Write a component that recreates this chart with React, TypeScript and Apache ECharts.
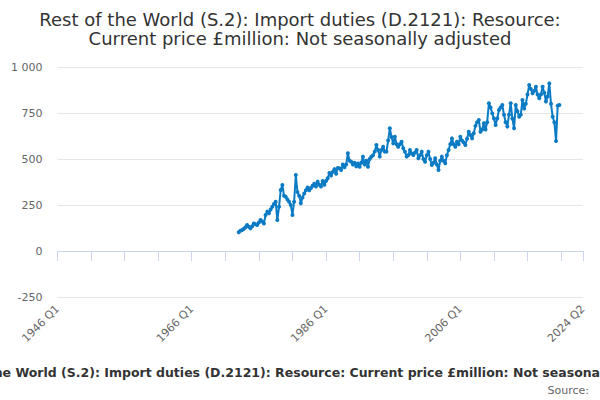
import React, { useEffect, useRef } from "react";
import * as echarts from "echarts";

const TITLE_LINE_1 = "Rest of the World (S.2): Import duties (D.2121): Resource:";
const TITLE_LINE_2 = "Current price £million: Not seasonally adjusted";
const FOOT_TITLE =
  "Rest of the World (S.2): Import duties (D.2121): Resource: Current price £million: Not seasonally adjusted";
const SOURCE_TEXT = "Source:";

const FIRST_YEAR = 1946;
const LAST_YEAR = 2024;
const LAST_QUARTER = 2;
const DATA_START = "1973 Q1";

const yTicks = [-250, 0, 250, 500, 750, 1000];

const values1970s = [
  102, 110, 114, 120,
  129, 141, 132, 123,
  135, 150, 145, 141,
  155, 168, 160, 150,
  196, 214, 205, 225,
  241, 255, 268, 168,
  240, 331, 359, 300,
];
const values1980s = [
  295, 280, 268, 250,
  196, 268, 413, 320,
  300, 259, 290, 313,
  330, 345, 330, 342,
  355, 365, 350, 377,
  360, 350, 380, 360,
  380, 395, 424, 410,
  430, 445, 420, 451,
  450, 440, 470, 455,
  470, 531, 490, 485,
];
const values1990s = [
  470, 480, 460, 475,
  458, 480, 513, 470,
  490, 458, 500, 512,
  520, 540, 576, 549,
  513, 549, 567, 540,
  540, 600, 667, 620,
  585, 621, 580, 567,
  580, 594, 558, 540,
  513, 520, 549, 530,
  522, 535, 549, 504,
];
const values2000s = [
  520, 540, 500, 485,
  520, 540, 500, 467,
  480, 504, 470, 440,
  490, 513, 490, 477,
  520, 549, 580, 612,
  580, 567, 594, 580,
  621, 600, 590, 576,
  610, 648, 630, 612,
  640, 680, 700, 712,
  648, 660, 694, 660,
];
const values2010s = [
  700, 803, 780, 748,
  720, 685, 720, 766,
  780, 793, 740, 700,
  676, 740, 803, 720,
  667, 793, 760, 730,
  740, 821, 775, 800,
  850, 902, 880, 857,
  870, 893, 850, 830,
  850, 893, 860, 812,
  840, 911, 800, 730,
];
const values2020s = [700, 598, 790, 793];

function buildQuarters(): string[] {
  const out: string[] = [];
  for (let y = FIRST_YEAR; y <= LAST_YEAR; y++) {
    for (let q = 1; q <= 4; q++) {
      if (y === LAST_YEAR && q > LAST_QUARTER) break;
      out.push(`${y} Q${q}`);
    }
  }
  return out;
}

function fmt(v: number): string {
  const s = String(Math.abs(v));
  const withSpaces = s.replace(/\B(?=(\d{3})+(?!\d))/g, " ");
  return (v < 0 ? "-" : "") + withSpaces;
}

export default function App() {
  const ref = useRef<HTMLDivElement>(null);

  useEffect(() => {
    if (!ref.current) return;
    const chart = echarts.init(ref.current, undefined, { renderer: "svg" });
    const quarters = buildQuarters();
    const allValues = [
      ...values1970s,
      ...values1980s,
      ...values1990s,
      ...values2000s,
      ...values2010s,
      ...values2020s,
    ];
    const startIdx = quarters.indexOf(DATA_START);
    const data = quarters.map((_, i) => {
      const k = i - startIdx;
      return k >= 0 && k < allValues.length ? allValues[k] : null;
    });
    const lastIdx = quarters.length - 1;
    const font = "DejaVu Sans";

    chart.setOption({
      animation: false,
      textStyle: { fontFamily: font },
      graphic: [
        {
          type: "text",
          x: 300,
          y: 19.8,
          style: {
            text: TITLE_LINE_1,
            font: `18px "${font}"`,
            fill: "#333333",
            align: "center",
            verticalAlign: "middle",
          },
        },
        {
          type: "text",
          x: 300,
          y: 38.8,
          style: {
            text: TITLE_LINE_2,
            font: `18px "${font}"`,
            fill: "#333333",
            align: "center",
            verticalAlign: "middle",
          },
        },
        {
          type: "text",
          x: 308,
          y: 372,
          style: {
            text: FOOT_TITLE,
            font: `bold 12.5px "${font}"`,
            fill: "#333333",
            align: "center",
            verticalAlign: "middle",
          },
        },
        {
          type: "text",
          x: 589,
          y: 390,
          style: {
            text: SOURCE_TEXT,
            font: `11px "${font}"`,
            fill: "#666666",
            align: "right",
            verticalAlign: "middle",
          },
        },
      ],
      grid: { left: 57.4, right: 17.1, top: 67, bottom: 103, containLabel: false },
      xAxis: {
        type: "category",
        data: quarters,
        boundaryGap: false,
        axisLine: { lineStyle: { color: "#ccd6eb", width: 1 } },
        axisTick: {
          show: true,
          length: 10,
          lineStyle: { color: "#ccd6eb" },
          interval: (i: number) => i % 20 === 0 || i === lastIdx,
        },
        axisLabel: {
          rotate: 45,
          margin: 10,
          color: "#666666",
          fontSize: 11,
          fontFamily: font,
          interval: (i: number) => i % 80 === 0 || i === lastIdx,
          showMaxLabel: true,
        },
        splitLine: { show: false },
      },
      yAxis: {
        type: "value",
        min: -250,
        max: 1000,
        interval: 250,
        axisLine: { show: false },
        axisTick: { show: false },
        axisLabel: {
          color: "#666666",
          fontSize: 11,
          fontFamily: font,
          margin: 15,
          formatter: (v: number) => (yTicks.includes(v) ? fmt(v) : ""),
        },
        splitLine: { lineStyle: { color: "#e6e6e6", width: 1 } },
      },
      series: [
        {
          type: "line",
          data,
          connectNulls: false,
          symbol: "circle",
          symbolSize: 4,
          showSymbol: true,
          showAllSymbol: true,
          lineStyle: { color: "#0b7bc4", width: 2 },
          itemStyle: { color: "#0b7bc4" },
        },
      ],
    });
    return () => chart.dispose();
  }, []);

  return (
    <div
      ref={ref}
      style={{ position: "absolute", left: 0, top: 0, width: 600, height: 400 }}
    />
  );
}
